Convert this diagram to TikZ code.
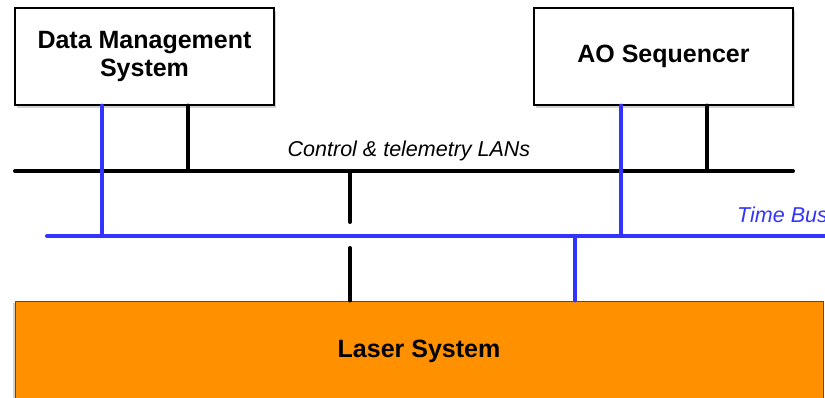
\documentclass[tikz,border=0pt]{standalone}
\usepackage{fontspec}
\setmainfont{Liberation Sans}
\usetikzlibrary{shadows}
\definecolor{busblue}{RGB}{51,51,255}
\definecolor{laserorange}{RGB}{255,145,0}
\begin{document}
\begin{tikzpicture}[x=1pt,y=-1pt,
  sysbox/.style={draw=black, line width=1.2pt, fill=white,
    drop shadow={shadow xshift=2pt, shadow yshift=-3pt, opacity=0.35},
    minimum width=259pt, minimum height=97pt, inner sep=0pt,
    font=\fontsize{25}{28}\selectfont\bfseries, align=center},
  laserbox/.style={draw=black!70, line width=1pt, fill=laserorange,
    drop shadow={shadow xshift=-2pt, shadow yshift=-2pt, opacity=0.35},
    minimum width=808pt, minimum height=100pt, inner sep=0pt,
    font=\fontsize{25}{28}\selectfont\bfseries},
  lan/.style={line width=4pt, line cap=round, draw=black},
  tbus/.style={line width=4pt, line cap=round, draw=busblue},
  lbl/.style={font=\fontsize{21.5}{25}\selectfont\itshape, inner sep=0pt}]
\useasboundingbox (0,0) rectangle (825,398);
\clip (0,0) rectangle (825,398);
\fill[white] (0,0) rectangle (825,398);

% buses
\coordinate (lanL) at (15,171);
\coordinate (lanR) at (793,171);
\coordinate (tbL) at (47,236);
\coordinate (tbR) at (830,236);
\coordinate (gapT) at (350,222);
\coordinate (gapB) at (350,248);

\node[sysbox] (dms) at (144.5,56.5) {Data Management\\System};
\node[sysbox] (ao) at (663.5,56.5) {AO Sequencer};
\node[laserbox] (laser) at (419,351) {Laser System};

\draw[lan] (lanL) -- (lanR);
\draw[tbus] (tbL) -- (tbR);

\node[lbl] (lanlabel) at (409,151) {Control \& telemetry LANs};
\node[lbl, text=busblue, anchor=west] (tblabel) at (737,215) {Time Bus};

% DMS connections
\draw[tbus] ([xshift=-42.5pt]dms.south) -- ([xshift=-42.5pt]dms.south |- tbL);
\draw[lan] ([xshift=43.5pt]dms.south) -- ([xshift=43.5pt]dms.south |- lanL);
% AO connections
\draw[tbus] ([xshift=-42.5pt]ao.south) -- ([xshift=-42.5pt]ao.south |- tbL);
\draw[lan] ([xshift=43.5pt]ao.south) -- ([xshift=43.5pt]ao.south |- lanL);
% Laser connections
\draw[lan] ([xshift=-69pt]laser.north |- lanL) -- (gapT);
\draw[lan] (gapB) -- ([xshift=-69pt]laser.north);
\draw[tbus] ([xshift=156pt]laser.north |- tbL) -- ([xshift=156pt]laser.north);
\end{tikzpicture}
\end{document}
